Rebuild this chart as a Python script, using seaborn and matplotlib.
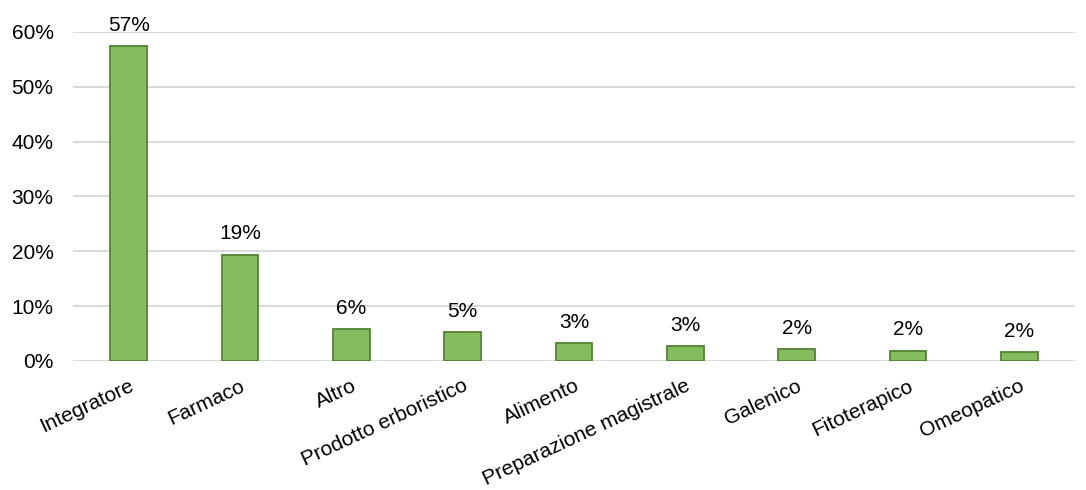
import matplotlib
matplotlib.use("Agg")
import matplotlib.pyplot as plt
import seaborn as sns
import pandas as pd

categories = ["Integratore", "Farmaco", "Altro", "Prodotto erboristico", "Alimento",
              "Preparazione magistrale", "Galenico", "Fitoterapico", "Omeopatico"]
shares = [0.574, 0.194, 0.058, 0.052, 0.032, 0.027, 0.022, 0.019, 0.016]
y_ticks = [0.0, 0.1, 0.2, 0.3, 0.4, 0.5, 0.6]
y_tick_labels = ["0%", "10%", "20%", "30%", "40%", "50%", "60%"]

df = pd.DataFrame({"categoria": categories, "quota": shares})

sns.set_theme(style="white")
plt.rcParams["font.family"] = ["Liberation Sans", "DejaVu Sans"]

fig = plt.figure(figsize=(10.86, 4.90), dpi=100)
ax = fig.add_axes([0.0672, 0.2633, 0.9228, 0.6714])

sns.barplot(data=df, x="categoria", y="quota", color="#84BC5E", saturation=1,
            edgecolor="#548235", linewidth=1.3, width=0.33, ax=ax, zorder=3)

ax.set_ylim(0, 0.6)
ax.set_xlim(-0.5, len(categories) - 0.5)
ax.set_yticks(y_ticks)
ax.set_yticklabels(y_tick_labels, fontsize=15, color="#000000")
ax.yaxis.grid(True, color="#D9D9D9", linewidth=1.4, zorder=0)
ax.set_axisbelow(True)
for s in ax.spines.values():
    s.set_visible(False)
ax.tick_params(axis="y", length=0, pad=14)
ax.tick_params(axis="x", length=0, pad=11)
ax.set_xlabel("")
ax.set_ylabel("")

ax.set_xticks(range(len(categories)))
ax.set_xticklabels(categories, rotation=25, ha="right", rotation_mode="anchor",
                   fontsize=15, color="#000000")

for i, v in enumerate(shares):
    ax.annotate(f"{v:.0%}", xy=(i, v), xytext=(0, 11), textcoords="offset points",
                ha="center", va="baseline", fontsize=15, color="#000000",
                annotation_clip=False)

fig.savefig("out.png", dpi=100)
